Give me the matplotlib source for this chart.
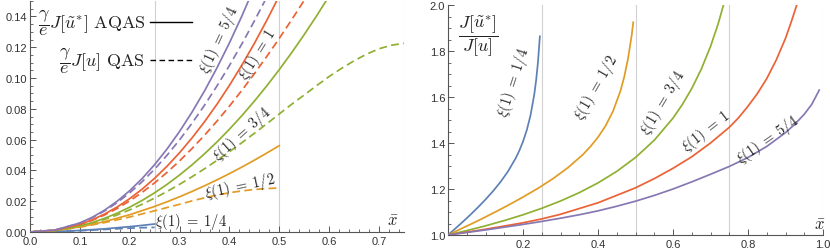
import matplotlib
matplotlib.use("Agg")
import matplotlib.pyplot as plt
from matplotlib.ticker import MultipleLocator, FixedLocator, FormatStrFormatter

plt.rcParams['mathtext.fontset'] = 'cm'
plt.rcParams['font.family'] = ['Liberation Sans', 'DejaVu Sans']

# ---------------- data: left panel (gamma/e * J) ----------------
xs_14 = [0, 0.05, 0.1, 0.15, 0.2, 0.225, 0.25]
aqas_14 = [0, 0.000287, 0.000999, 0.002073, 0.00348, 0.0043, 0.0052]
qas_14 = [0, 0.000268, 0.000867, 0.001645, 0.0025, 0.0028, 0.0030]

xs_12 = [0, 0.05, 0.1, 0.15, 0.2, 0.25, 0.275, 0.3, 0.325, 0.35, 0.375,
         0.4, 0.425, 0.45, 0.475, 0.5]
aqas_12 = [0, 0.000982, 0.00332, 0.006768, 0.011222, 0.016607, 0.019632,
           0.022877, 0.026334, 0.029995, 0.033856, 0.037928, 0.042182,
           0.046636, 0.05129, 0.0561]
qas_12 = [0, 0.000951, 0.003109, 0.006125, 0.009741, 0.013759, 0.0159,
          0.0180, 0.0202, 0.0222, 0.0240, 0.0255, 0.0267, 0.0276, 0.0282,
          0.0286]

xs_34 = [0, 0.05, 0.1, 0.125, 0.15, 0.175, 0.2, 0.225, 0.25, 0.275, 0.3,
         0.325, 0.35, 0.375, 0.4, 0.425, 0.45, 0.475, 0.5, 0.525, 0.55,
         0.575, 0.6]
aqas_34 = [0, 0.00094, 0.003894, 0.006153, 0.00894, 0.012259, 0.016121,
           0.02052, 0.025475, 0.03096, 0.037013, 0.04361, 0.05078, 0.058488,
           0.066761, 0.075597, 0.085001, 0.094952, 0.105485, 0.116573,
           0.128243, 0.140471, 0.15329]
xs_34q = [0, 0.05, 0.1, 0.125, 0.15, 0.175, 0.2, 0.225, 0.25, 0.275, 0.3,
          0.325, 0.35, 0.375, 0.4, 0.425, 0.45, 0.475, 0.5, 0.525, 0.55,
          0.575, 0.6, 0.625, 0.65, 0.675, 0.7, 0.725, 0.75]
qas_34 = [0, 0.000916, 0.003691, 0.005749, 0.00823, 0.011116, 0.014394,
          0.018035, 0.022032, 0.026342, 0.030973, 0.035884, 0.041076,
          0.0465, 0.052157, 0.058027, 0.064091, 0.070319, 0.0767, 0.083,
          0.089, 0.0951, 0.101, 0.1063, 0.1112, 0.1155, 0.119, 0.1213,
          0.1225]

xs_1 = [0, 0.05, 0.1, 0.125, 0.15, 0.175, 0.2, 0.225, 0.25, 0.275, 0.3,
        0.325, 0.35, 0.375, 0.4, 0.425, 0.45, 0.475, 0.5, 0.525, 0.55]
aqas_1 = [0, 0.001119, 0.004925, 0.007933, 0.011715, 0.01628, 0.021659,
          0.027853, 0.034895, 0.042777, 0.051507, 0.061119, 0.071603,
          0.082978, 0.095248, 0.108432, 0.122521, 0.137545, 0.153472,
          0.170303, 0.18813]
qas_1 = [0, 0.001102, 0.004769, 0.007614, 0.011143, 0.015343, 0.020219,
         0.02575, 0.031941, 0.038758, 0.046187, 0.054228, 0.062848,
         0.072038, 0.081772, 0.092042, 0.102812, 0.114081, 0.125797,
         0.137933, 0.15054]

xs_54 = [0, 0.05, 0.1, 0.125, 0.15, 0.175, 0.2, 0.225, 0.25, 0.275, 0.3,
         0.325, 0.35, 0.375, 0.4, 0.425, 0.45, 0.475, 0.5]
aqas_54 = [0, 0.00128, 0.00586, 0.009558, 0.01428, 0.020012, 0.02683,
           0.034746, 0.04379, 0.053979, 0.06532, 0.07788, 0.09162, 0.106635,
           0.12285, 0.140328, 0.15912, 0.179167, 0.20047]
qas_54 = [0, 0.00127, 0.00573, 0.009275, 0.01376, 0.019137, 0.02546,
          0.032696, 0.04085, 0.049913, 0.05984, 0.070673, 0.08233,
          0.094853, 0.10814, 0.122213, 0.13707, 0.152617, 0.16882]

# ---------------- data: right panel (ratio J[u*]/J[u]) ----------------
rx_14 = [0, 0.02, 0.04, 0.06, 0.08, 0.1, 0.12, 0.14, 0.16, 0.18, 0.19, 0.2,
         0.21, 0.22, 0.23, 0.235, 0.24, 0.245]
ry_14 = [1.0, 1.0287, 1.0581, 1.0886, 1.1205, 1.1542, 1.1905, 1.2306,
         1.2766, 1.3323, 1.3661, 1.4061, 1.4555, 1.5199, 1.6104, 1.6724,
         1.7532, 1.8638]
rx_12 = [0, 0.04, 0.08, 0.12, 0.16, 0.2, 0.24, 0.28, 0.32, 0.36, 0.38, 0.4,
         0.42, 0.44, 0.46, 0.47, 0.48, 0.49, 0.494]
ry_12 = [1.0, 1.031, 1.062, 1.095, 1.129, 1.165, 1.203, 1.245, 1.293, 1.35,
         1.385, 1.425, 1.474, 1.538, 1.627, 1.688, 1.766, 1.87, 1.925]
rx_34 = [0, 0.05, 0.1, 0.15, 0.2, 0.25, 0.3, 0.35, 0.4, 0.45, 0.5, 0.55,
         0.6, 0.625, 0.65, 0.675, 0.7, 0.72, 0.737]
ry_34 = [1.0, 1.0191, 1.0399, 1.0627, 1.0879, 1.116, 1.1478, 1.1842,
         1.2265, 1.2765, 1.337, 1.412, 1.5082, 1.5675, 1.6369, 1.7195,
         1.8194, 1.916, 2.0136]
rx_1 = [0, 0.1, 0.2, 0.25, 0.3, 0.4, 0.5, 0.55, 0.6, 0.65, 0.7, 0.75, 0.775,
        0.8, 0.825, 0.85, 0.875, 0.9, 0.915, 0.93]
ry_1 = [1.0, 1.025, 1.053, 1.07, 1.09, 1.14, 1.205, 1.245, 1.29, 1.34, 1.4,
        1.468, 1.51, 1.56, 1.615, 1.68, 1.76, 1.855, 1.925, 2.0]
rx_54 = [0, 0.1, 0.2, 0.25, 0.3, 0.35, 0.4, 0.45, 0.5, 0.55, 0.6, 0.65, 0.7,
         0.75, 0.8, 0.85, 0.9, 0.925, 0.95, 0.97, 0.99]
ry_54 = [1.0, 1.022, 1.046, 1.059, 1.073, 1.088, 1.105, 1.125, 1.147, 1.172,
         1.2, 1.231, 1.264, 1.298, 1.337, 1.385, 1.445, 1.482, 1.525, 1.568,
         1.63]

labels = [r'$\xi(1)\;=\;1/4$', r'$\xi(1)\;=\;1/2$', r'$\xi(1)\;=\;3/4$',
          r'$\xi(1)\;=\;1$', r'$\xi(1)\;=\;5/4$']

C_BLUE = '#5E81B5'
C_ORANGE = '#E19C24'
C_GREEN = '#8FB032'
C_RED = '#EB6235'
C_PURPLE = '#8778B3'

LW = 1.25
DASH = (0, (4.5, 2.5))

fig = plt.figure(figsize=(8.3, 2.51), dpi=100)


def style_axes(ax):
    for s in ['top', 'right']:
        ax.spines[s].set_visible(False)
    for s in ['left', 'bottom']:
        ax.spines[s].set_color('#555555')
        ax.spines[s].set_linewidth(0.8)
    ax.tick_params(which='major', direction='in', length=4, width=0.7,
                   color='#555555', labelsize=8, labelcolor='#333333', pad=2)
    ax.tick_params(which='minor', direction='in', length=2.2, width=0.6,
                   color='#555555')
    ax.tick_params(axis='x', which='major', pad=3)


# ---------------- left panel ----------------
ax1 = fig.add_axes([30 / 830, 18 / 251, 374 / 830, 231 / 251])
ax1.set_xlim(0, 0.75)
ax1.set_ylim(0, 0.15)
style_axes(ax1)
for gx in [0.25, 0.5, 0.75]:
    ax1.axvline(gx, color='#d0d0d0', lw=0.8, zorder=0)

series = [
    (xs_14, aqas_14, xs_14, qas_14, C_BLUE),
    (xs_12, aqas_12, xs_12, qas_12, C_ORANGE),
    (xs_34, aqas_34, xs_34q, qas_34, C_GREEN),
    (xs_1, aqas_1, xs_1, qas_1, C_RED),
    (xs_54, aqas_54, xs_54, qas_54, C_PURPLE),
]
for xa, ya, xq, yq, c in series:
    ax1.plot(xq, yq, color=c, lw=LW, linestyle=DASH, zorder=2)
    ax1.plot(xa, ya, color=c, lw=LW, zorder=3)

ax1.xaxis.set_major_locator(MultipleLocator(0.1))
ax1.xaxis.set_minor_locator(MultipleLocator(0.02))
ax1.yaxis.set_major_locator(FixedLocator([0, 0.02, 0.04, 0.06, 0.08, 0.10, 0.12, 0.14]))
ax1.yaxis.set_minor_locator(MultipleLocator(0.005))
ax1.xaxis.set_major_formatter(FormatStrFormatter('%.1f'))
ax1.yaxis.set_major_formatter(FormatStrFormatter('%.2f'))

lab_kw = dict(fontsize=10.5, ha='center', va='center', color='#222222')
ax1.text(0.379, 0.1255, labels[4], rotation=65, **lab_kw)
ax1.text(0.457, 0.116, labels[3], rotation=58, **lab_kw)
ax1.text(0.425, 0.0637, labels[2], rotation=42, **lab_kw)
ax1.text(0.421, 0.0300, labels[1], rotation=12, **lab_kw)
ax1.text(0.323, 0.0074, labels[0], rotation=0, **lab_kw)
ax1.text(0.728, 0.0075, r'$\bar{x}$', fontsize=12, ha='center', va='center',
         color='#222222')

# legend (manual, Mathematica style)
ax1.text(0.231, 0.1365, r'$\dfrac{\gamma}{e}J[\tilde{u}^{*}]\ \mathrm{AQAS}$',
         fontsize=13, ha='right', va='center', color='#222222')
ax1.text(0.231, 0.1120, r'$\dfrac{\gamma}{e}J[u]\ \mathrm{QAS}$',
         fontsize=13, ha='right', va='center', color='#222222')
ax1.plot([0.2407, 0.3249], [0.1365, 0.1365], color='black', lw=1.0)
ax1.plot([0.2407, 0.3249], [0.1120, 0.1120], color='black', lw=1.0,
         linestyle=(0, (4, 2.5)))

# ---------------- right panel ----------------
ax2 = fig.add_axes([448 / 830, 15 / 251, 375 / 830, 230 / 251])
ax2.set_xlim(0, 1.0)
ax2.set_ylim(1.0, 2.0)
style_axes(ax2)
for gx in [0.25, 0.5, 0.75, 1.0]:
    ax2.axvline(gx, color='#d0d0d0', lw=0.8, zorder=0)

ratio = [
    (rx_14, ry_14, C_BLUE),
    (rx_12, ry_12, C_ORANGE),
    (rx_34, ry_34, C_GREEN),
    (rx_1, ry_1, C_RED),
    (rx_54, ry_54, C_PURPLE),
]
for xr, yr, c in ratio:
    ax2.plot(xr, yr, color=c, lw=LW, zorder=3)

ax2.xaxis.set_major_locator(FixedLocator([0.2, 0.4, 0.6, 0.8, 1.0]))
ax2.xaxis.set_minor_locator(MultipleLocator(0.05))
ax2.yaxis.set_major_locator(FixedLocator([1.0, 1.2, 1.4, 1.6, 1.8, 2.0]))
ax2.yaxis.set_minor_locator(MultipleLocator(0.05))
ax2.xaxis.set_major_formatter(FormatStrFormatter('%.1f'))
ax2.yaxis.set_major_formatter(FormatStrFormatter('%.1f'))

ax2.text(0.176, 1.665, labels[0], rotation=72, **lab_kw)
ax2.text(0.395, 1.643, labels[1], rotation=60, **lab_kw)
ax2.text(0.573, 1.578, labels[2], rotation=59, **lab_kw)
ax2.text(0.688, 1.452, labels[3], rotation=38, **lab_kw)
ax2.text(0.853, 1.417, labels[4], rotation=35, **lab_kw)
ax2.text(0.99, 1.045, r'$\bar{x}$', fontsize=12, ha='center', va='center',
         color='#222222')
ax2.text(0.08, 1.87, r'$\dfrac{J[\tilde{u}^{*}]}{J[u]}$', fontsize=13,
         ha='center', va='center', color='#222222')

fig.savefig('out.png', dpi=100)
